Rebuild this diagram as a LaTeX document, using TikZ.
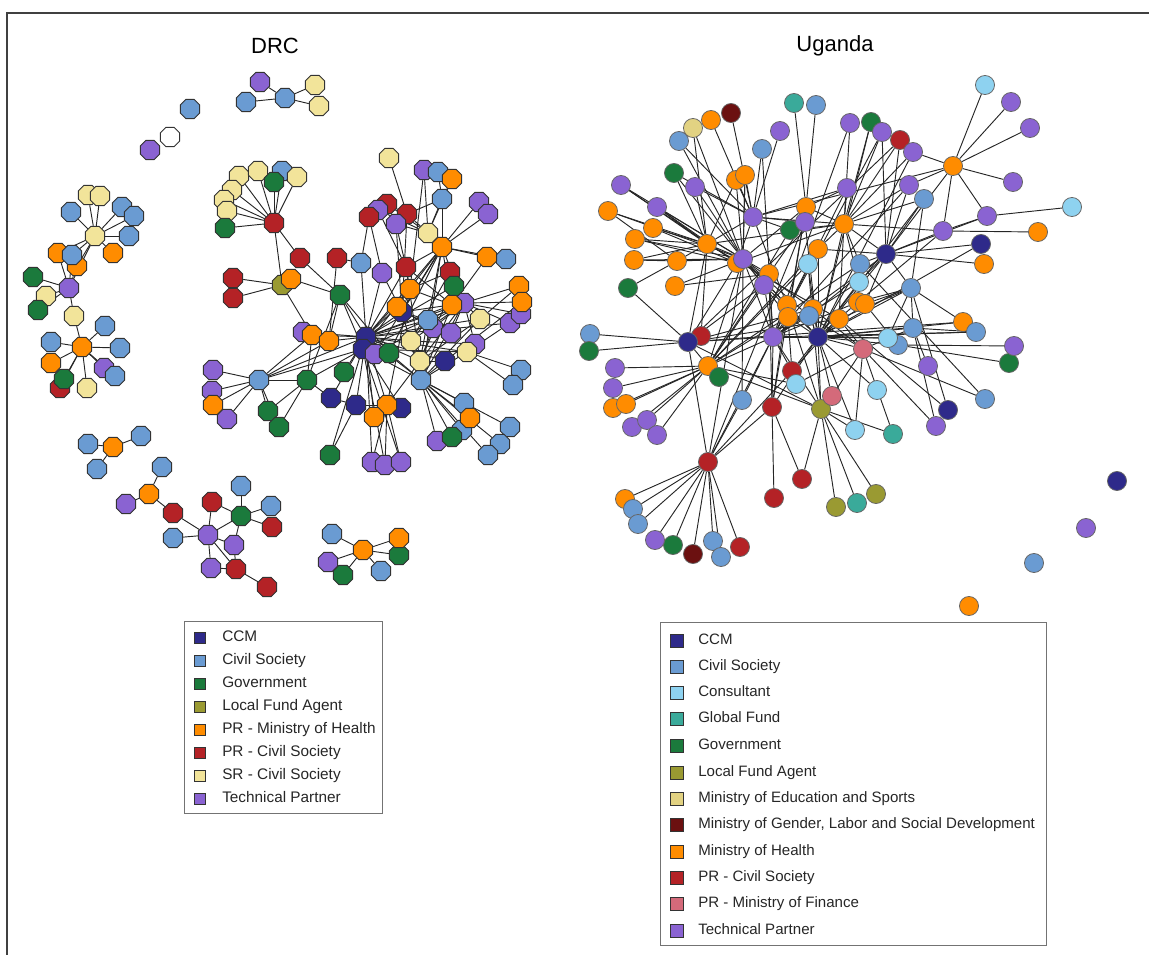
\documentclass[tikz,border=0pt]{standalone}
\usepackage{fontspec}
\setmainfont{Liberation Sans}
\usetikzlibrary{shapes.geometric}
\pgfdeclarelayer{bg}
\pgfsetlayers{bg,main}
\definecolor{cCCM}{HTML}{2E2A8A}
\definecolor{cCiv}{HTML}{6A9BD2}
\definecolor{cCons}{HTML}{8ED2F0}
\definecolor{cGF}{HTML}{3AAA9A}
\definecolor{cGov}{HTML}{1B7A3C}
\definecolor{cLFA}{HTML}{9A9A32}
\definecolor{cMoE}{HTML}{E2D282}
\definecolor{cMoG}{HTML}{6B1010}
\definecolor{cMoH}{HTML}{FF8C00}
\definecolor{cPRC}{HTML}{B42226}
\definecolor{cPRF}{HTML}{D46A7A}
\definecolor{cSRC}{HTML}{F2E49A}
\definecolor{cTec}{HTML}{8A63D2}
\begin{document}
\begin{tikzpicture}[x=0.75pt,y=-0.75pt,
  dn/.style={regular polygon,regular polygon sides=8,draw=black!80,line width=0.75pt,minimum size=15.8pt,inner sep=0pt},
  un/.style={circle,draw=black!60,line width=0.6pt,minimum size=14.3pt,inner sep=0pt},
  ed/.style={draw=black!85,line width=0.7pt},
  ccm/.style={fill=cCCM}, civ/.style={fill=cCiv}, cons/.style={fill=cCons},
  gfund/.style={fill=cGF}, gov/.style={fill=cGov}, lfa/.style={fill=cLFA},
  moe/.style={fill=cMoE}, mog/.style={fill=cMoG}, moh/.style={fill=cMoH},
  prc/.style={fill=cPRC}, prf/.style={fill=cPRF}, src/.style={fill=cSRC},
  tec/.style={fill=cTec}, wht/.style={fill=white},
  ttl/.style={font=\fontsize{16.5pt}{18pt}\selectfont,inner sep=0pt},
  lgbox/.style={draw=black!55,line width=0.6pt,inner sep=0pt},
  lsq/.style={draw=black!80,line width=0.6pt,inner sep=0pt,minimum size=7.8pt},
  ltxA/.style={anchor=mid west,inner sep=0pt,font=\fontsize{11.5pt}{13pt}\selectfont,text=black!85},
  ltxB/.style={anchor=mid west,inner sep=0pt,font=\fontsize{11.3pt}{13pt}\selectfont,text=black!85}]
\path[use as bounding box] (0,0) rectangle (1149,955);
\coordinate (fa) at (7,955); \coordinate (fb) at (7,13); \coordinate (fc) at (1149,13);
\draw[black!75,line width=1.3pt] (fa) -- (fb) -- (fc);

\node[ttl] (tDRC) at (275,46) {DRC};
\node[ttl] (tUG) at (835,46) {Uganda};

% ---------------- DRC nodes ----------------
\foreach \n/\x/\y in {m22/366/337, m23/363/349, m35/331/398, m36/356/405, m38/401/408, m54/445/361, m57/402/312}
  \node[dn,ccm] (\n) at (\x,\y) {};
\foreach \n/\x/\y in {L25/60/388, m1/274/223, m13/233/278, m14/233/298, m15/300/258, m16/337/258, m73/406/267, m74/450/272, m80/407/214, m82/387/204, b8/173/513, b11/212/502, b15/272/527, b18/236/569, b19/267/587}
  \node[dn,prc] (\n) at (\x,\y) {};
\foreach \n/\x/\y in {d1/260/82, d8/150/150, L12/69/288, L22/104/368, m19/303/332, m24/375/354, m27/213/370, m28/212/391, m30/227/419, m41/372/462, m42/385/465, m43/401/462, m49/437/441, m60/433/328, m61/451/333, m62/475/344, m65/464/303, m66/510/323, m67/521/314, m83/378/210, m84/396/224, m86/424/170, m89/479/202, m90/488/214, m92/382/273, b7/126/504, b9/208/535, b16/234/545, b17/211/568, b22/328/562}
  \node[dn,tec] (\n) at (\x,\y) {};
\foreach \n/\x/\y in {m81/369/217}
  \node[dn,prc] (\n) at (\x,\y) {};
\foreach \n/\x/\y in {d2/246/102, d3/285/98, d6/190/109, L4/71/212, L5/122/207, L6/134/216, L7/129/236, L18/105/326, L19/51/342, L20/120/348, L23/115/376, m8/282/171, m17/361/263, m26/259/380, m44/421/380, m45/464/403, m47/462/430, m50/510/427, m51/500/444, m52/488/455, m59/428/320, m70/521/370, m71/513/385, m79/506/259, m85/442/199, m87/438/172, b2/88/444, b3/141/436, b4/97/469, b6/162/467, b10/173/538, b13/241/486, b14/271/506, b21/332/534, b24/381/571}
  \node[dn,civ] (\n) at (\x,\y) {};
\foreach \n/\x/\y in {d4/315/85, d5/319/106, L1/95/236, L2/88/195, L3/100/196, L14/46/296, L16/74/316, L26/87/388, m2/239/176, m3/232/190, m4/224/200, m5/227/211, m6/258/171, m7/297/177, m53/420/361, m55/467/352, m56/411/341, m63/480/319, m77/428/233, m91/389/158}
  \node[dn,src] (\n) at (\x,\y) {};
\foreach \n/\x/\y in {L13/33/277, L15/38/310, L24/64/379, m9/274/182, m10/225/228, m18/340/295, m25/389/353, m31/268/411, m32/279/427, m33/307/380, m34/344/372, m40/330/455, m48/452/437, m75/454/286, b12/241/516, b23/343/575, b26/399/555}
  \node[dn,gov] (\n) at (\x,\y) {};
\foreach \n/\x/\y in {m11/282/285}
  \node[dn,lfa] (\n) at (\x,\y) {};
\foreach \n/\x/\y in {L9/58/253, L11/77/266, L8/113/253, L17/82/347, L21/51/363, m12/291/279, m20/312/335, m21/329/341, m29/213/405, m37/387/405, m39/374/417, m46/470/418, m58/397/307, m64/452/305, m68/519/286, m69/522/302, m72/410/289, m76/442/247, m78/487/257, m88/452/179, b1/113/447, b5/149/494, b20/363/550, b25/399/538}
  \node[dn,moh] (\n) at (\x,\y) {};
\node[dn,civ] (L10) at (72,255) {};
\node[dn,wht] (d7) at (170,137) {};

% ---------------- Uganda nodes ----------------
\foreach \n/\x/\y in {u12/900/140, u66/701/336, u88/792/371, u91/772/407, u100/708/462, u101/802/479, u102/774/498, u114/740/547}
  \node[un,prc] (\n) at (\x,\y) {};
\foreach \n/\x/\y in {u4/711/120, u14/953/166, u24/1038/232, u27/984/264, u30/736/180, u31/745/175, u34/608/211, u35/653/228, u36/635/239, u37/707/244, u38/634/260, u39/677/261, u41/675/286, u43/806/207, u46/844/224, u48/818/249, u49/737/263, u52/769/274, u56/858/302, u57/865/304, u58/787/305, u59/788/317, u60/813/309, u62/839/319, u71/963/322, u79/708/366, u83/613/408, u84/626/404, u106/625/499, u118/969/606}
  \node[un,moh] (\n) at (\x,\y) {};
\foreach \n/\x/\y in {u2/816/105, u6/679/141, u8/762/149, u20/924/199, u54/860/264, u61/809/316, u63/590/334, u70/911/288, u72/976/332, u73/913/328, u75/898/345, u90/742/400, u98/985/399, u107/633/509, u108/638/524, u112/713/541, u113/721/557, u117/1034/563}
  \node[un,civ] (\n) at (\x,\y) {};
\foreach \n/\x/\y in {u15/985/85, u21/1072/207, u51/808/264, u55/859/282, u74/888/338, u89/796/384, u94/855/430, u99/877/390}
  \node[un,cons] (\n) at (\x,\y) {};
\foreach \n/\x/\y in {u1/794/103, u95/893/434, u104/857/503}
  \node[un,gfund] (\n) at (\x,\y) {};
\foreach \n/\x/\y in {u10/871/122, u28/674/173, u40/628/288, u45/790/230, u64/589/351, u77/1009/363, u80/719/377, u110/673/545}
  \node[un,gov] (\n) at (\x,\y) {};
\foreach \n/\x/\y in {u93/821/409, u103/836/507, u105/876/494}
  \node[un,lfa] (\n) at (\x,\y) {};
\node[un,moe] (u5) at (693,128) {};
\foreach \n/\x/\y in {u3/731/113, u111/693/554}
  \node[un,mog] (\n) at (\x,\y) {};
\foreach \n/\x/\y in {u69/863/349, u92/832/396}
  \node[un,prf] (\n) at (\x,\y) {};
\foreach \n/\x/\y in {u25/981/244, u26/886/254, u65/688/342, u68/818/337, u97/948/410, u115/1117/481}
  \node[un,ccm] (\n) at (\x,\y) {};
\foreach \n/\x/\y in {u7/780/131, u9/850/123, u11/882/132, u13/913/152, u16/1011/102, u17/1030/128, u18/1013/182, u19/909/185, u22/987/216, u23/943/231, u29/695/187, u32/621/185, u33/657/207, u42/753/217, u44/805/222, u47/847/188, u50/743/259, u53/764/285, u67/773/337, u76/1014/346, u78/928/366, u81/615/368, u82/613/388, u85/632/427, u86/647/420, u87/657/435, u96/936/426, u109/655/540, u116/1086/528}
  \node[un,tec] (\n) at (\x,\y) {};

% ---------------- edges ----------------
\begin{pgfonlayer}{bg}
\foreach \a/\b in {d1/d3, d2/d3, d3/d4, d3/d5,
 L1/L2, L1/L3, L1/L4, L1/L5, L1/L6, L1/L7, L1/L8, L1/L9, L1/L10, L1/L11, L1/L12, L12/L9, L12/L10, L12/L11, L12/L13, L12/L14, L12/L15, L12/L16, L16/L17, L17/L18, L17/L19, L17/L20, L17/L21, L17/L22, L17/L23, L17/L24, L17/L25, L17/L26,
 m1/m2, m1/m3, m1/m4, m1/m5, m1/m6, m1/m7, m1/m8, m1/m9, m1/m10, m1/m15, m1/m11,
 m11/m12, m11/m13, m11/m14, m11/m20, m12/m18, m15/m18, m16/m21, m16/m17,
 m17/m22, m17/m81, m18/m22, m18/m21, m18/m33, m18/m23, m18/m25,
 m22/m19, m22/m20, m22/m21, m22/m26, m22/m34, m22/m24, m22/m25, m22/m57, m22/m58, m22/m56, m22/m53, m22/m54, m22/m59, m22/m72, m22/m73, m22/m44, m22/m35, m22/m36, m22/m37, m22/m39, m22/m40, m22/m41, m22/m92, m22/m64, m22/m63, m22/m55,
 m23/m26, m23/m33, m23/m44, m23/m55, m23/m42, m23/m43, m23/m38, m23/m24,
 m26/m27, m26/m28, m26/m29, m26/m30, m26/m31, m26/m32, m26/m33, m26/m21, m26/m20,
 m33/m31, m33/m32, m33/m20, m33/m35, m35/m36, m36/m40, m36/m37,
 m37/m41, m37/m42, m37/m43, m37/m39, m37/m38, m37/m72,
 m44/m45, m44/m46, m44/m47, m44/m48, m44/m49, m44/m50, m44/m51, m44/m52, m44/m53, m44/m54, m44/m25, m44/m64, m44/m76, m44/m57,
 m55/m70, m55/m71, m55/m66, m55/m62, m55/m44,
 m57/m58, m57/m72, m57/m80, m57/m84, m57/m92, m57/m59,
 m76/m77, m76/m78, m76/m79, m76/m65, m76/m64, m76/m85, m76/m89, m76/m90, m76/m73, m76/m57,
 m77/m80, m77/m82, m77/m83, m77/m84, m77/m85, m77/m86, m77/m88,
 m91/m80, m85/m87, m85/m88, m85/m80, m86/m72,
 m65/m68, m65/m69, m65/m66, m65/m67, m65/m63, m65/m62, m65/m59, m65/m60, m65/m61,
 m74/m72, m74/m56, m75/m64, m75/m65, m75/m53,
 m73/m84, m73/m83, m73/m72, m73/m64, m73/m53,
 m81/m83, m81/m92, m82/m80, m53/m54, m53/m56, m53/m63, m60/m53, m61/m57, m72/m58, m72/m64, m56/m59, m56/m62, m64/m78, m63/m68, m54/m69,
 m22/m76, m22/m65, m22/m66, m22/m75, m23/m65, m23/m76, m44/m63, m44/m65, m57/m65, m57/m76, m24/m76, m24/m65, m25/m76, m37/m65, m53/m76, m56/m65,
 b1/b2, b1/b3, b1/b4, b5/b6, b5/b7, b5/b8, b8/b9, b9/b10, b9/b11, b9/b12, b9/b16, b9/b17, b9/b18, b11/b12, b12/b13, b12/b14, b12/b15, b12/b16, b16/b18, b17/b18, b18/b19, b20/b21, b20/b22, b20/b23, b20/b24, b20/b25, b20/b26}
  \draw[ed] (\a) -- (\b);
\foreach \a/\b in {u14/u15, u14/u16, u14/u17, u14/u18, u14/u13, u14/u22, u14/u23, u14/u26, u14/u42, u14/u19,
 u22/u21, u22/u23, u22/u26, u23/u24, u23/u26, u23/u46, u23/u56,
 u26/u25, u26/u27, u26/u20, u26/u19, u26/u11, u26/u12, u26/u54, u26/u55, u26/u57, u26/u67, u26/u61, u26/u68, u26/u48, u26/u46, u26/u70,
 u46/u9, u46/u10, u46/u11, u46/u12, u46/u13, u46/u19, u46/u20, u46/u47, u46/u43, u46/u48, u46/u37, u46/u49, u46/u54, u46/u55, u46/u62, u46/u68, u46/u42, u46/u45,
 u47/u42, u47/u43,
 u42/u6, u42/u8, u42/u7, u42/u3, u42/u4, u42/u30, u42/u31, u42/u29, u42/u45, u42/u44, u42/u37, u42/u49, u42/u58,
 u43/u2, u43/u1, u43/u44, u43/u45, u43/u59, u43/u50, u44/u52, u44/u68,
 u37/u32, u37/u33, u37/u34, u37/u35, u37/u36, u37/u38, u37/u39, u37/u28, u37/u29, u37/u5, u37/u50, u37/u65, u37/u62, u37/u66,
 u50/u33, u50/u36, u50/u38, u50/u39, u50/u41, u50/u28, u50/u5, u50/u6, u50/u30, u50/u31, u50/u53, u50/u58, u50/u59, u50/u61, u50/u60, u50/u52, u50/u68, u50/u67, u50/u79, u50/u100, u50/u90, u50/u32, u50/u34,
 u39/u40, u39/u38, u39/u34, u41/u52, u40/u65,
 u65/u63, u65/u64, u65/u66, u65/u67, u65/u79, u65/u100, u65/u49,
 u67/u59, u67/u60, u67/u61, u67/u52, u67/u53, u67/u88, u67/u91, u67/u90, u67/u100, u67/u79, u67/u68, u67/u93, u67/u48,
 u68/u48, u68/u51, u68/u54, u68/u55, u68/u56, u68/u57, u68/u58, u68/u59, u68/u60, u68/u61, u68/u62, u68/u69, u68/u70, u68/u73, u68/u74, u68/u75, u68/u88, u68/u91, u68/u93, u68/u92, u68/u99, u68/u94, u68/u72, u68/u71, u68/u25, u68/u53,
 u79/u81, u79/u82, u79/u83, u79/u84, u79/u85, u79/u86, u79/u87, u79/u80, u79/u89, u79/u93, u79/u52, u79/u53,
 u91/u100, u91/u101, u91/u102, u91/u58, u88/u100, u88/u62,
 u93/u101, u93/u103, u93/u104, u93/u105, u93/u94, u93/u95, u93/u58, u93/u65,
 u100/u106, u100/u107, u100/u108, u100/u109, u100/u110, u100/u111, u100/u112, u100/u113, u100/u114, u100/u90,
 u69/u95, u69/u94, u69/u96, u69/u89, u69/u92, u69/u60, u69/u61, u69/u73, u69/u62,
 u70/u71, u70/u73, u70/u57, u70/u74, u70/u56, u70/u62, u70/u97, u70/u20,
 u73/u72, u73/u96, u73/u78, u75/u76, u75/u77, u75/u57, u97/u62, u98/u69, u98/u54,
 u30/u37, u31/u50, u29/u50, u36/u49, u35/u49, u32/u49, u33/u49, u28/u42, u8/u67, u9/u67, u10/u68, u11/u67, u13/u68, u19/u67, u20/u68, u12/u65, u47/u67, u45/u79, u51/u79, u53/u65, u59/u79, u60/u65, u62/u65, u48/u79, u44/u100, u43/u91, u52/u91, u58/u88, u51/u93, u55/u67, u54/u79, u56/u67, u71/u65, u72/u67, u74/u67}
  \draw[ed] (\a) -- (\b);
\end{pgfonlayer}

% ---------------- legends ----------------
\node[lgbox,minimum width=148.5pt,minimum height=144pt] (legD) at (283,717) {};
\foreach \i/\y/\c/\t in {1/638/cCCM/CCM, 2/661/cCiv/Civil Society, 3/684/cGov/Government, 4/707/cLFA/Local Fund Agent, 5/730/cMoH/PR - Ministry of Health, 6/753/cPRC/PR - Civil Society, 7/776/cSRC/SR - Civil Society, 8/799/cTec/Technical Partner}
{
  \node[lsq,fill=\c] (dq\i) at (200,\y) {};
  \node[ltxA] (dt\i) at (222,\y) {\t};
}
\node[lgbox,minimum width=289.5pt,minimum height=242.25pt] (legU) at (853,783.5) {};
\foreach \i/\y/\c/\t in {1/641/cCCM/CCM, 2/667/cCiv/Civil Society, 3/693/cCons/Consultant, 4/719/cGF/Global Fund, 5/746/cGov/Government, 6/773/cLFA/Local Fund Agent, 7/799/cMoE/Ministry of Education and Sports, 8/825/cMoG/{Ministry of Gender, Labor and Social Development}, 9/852/cMoH/Ministry of Health, 10/878/cPRC/PR - Civil Society, 11/904/cPRF/PR - Ministry of Finance, 12/931/cTec/Technical Partner}
{
  \node[lsq,fill=\c,minimum size=9.5pt] (uq\i) at (677,\y) {};
  \node[ltxB] (ut\i) at (698,\y) {\t};
}
\end{tikzpicture}
\end{document}
